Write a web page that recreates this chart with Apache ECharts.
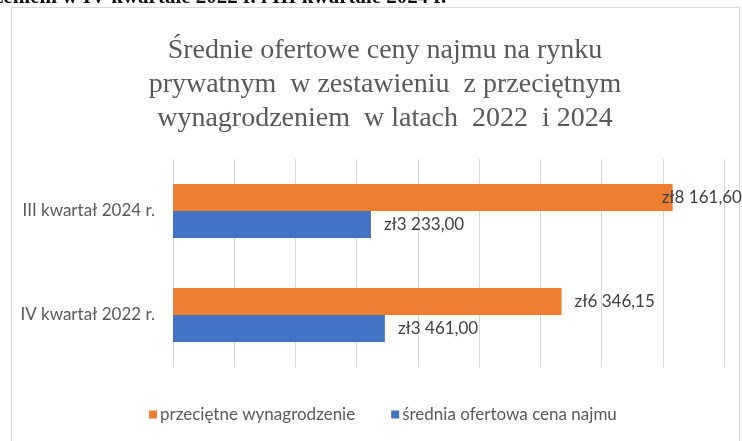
<!DOCTYPE html>
<html>
<head>
<meta charset="utf-8">
<script src="https://cdn.jsdelivr.net/npm/echarts@6/dist/echarts.min.js"></script>
<style>html,body{margin:0;padding:0;background:#fff;}#c{width:742px;height:441px;}</style>
</head>
<body>
<div id="c"></div>
<script>
const categories = ['IV kwartał 2022 r.', 'III kwartał 2024 r.'];
const wageName = 'przeciętne wynagrodzenie';
const rentName = 'średnia ofertowa cena najmu';
const wageValues = [6346.15, 8161.60];
const rentValues = [3461.00, 3233.00];
const titleText = 'Średnie ofertowe ceny najmu na rynku\nprywatnym  w zestawieniu  z przeciętnym\nwynagrodzeniem  w latach  2022  i 2024';
const headerText = 'zeniem w IV kwartale 2022 r. i III kwartale 2024 r.';

function fmt(v) {
  const parts = v.toFixed(2).split('.');
  const intPart = parts[0].replace(/\B(?=(\d{3})+(?!\d))/g, ' ');
  return 'zł' + intPart + ',' + parts[1];
}

const chart = echarts.init(document.getElementById('c'), null, {renderer: 'canvas'});
const labelFont = 'Lato, "Open Sans", sans-serif';
chart.setOption({
  backgroundColor: '#fff',
  animation: false,
  title: {
    text: titleText,
    left: 380,
    top: 29,
    textAlign: 'center',
    textStyle: {
      fontFamily: '"Liberation Serif", "DejaVu Serif", serif',
      fontSize: 28,
      fontWeight: 'normal',
      color: '#595959',
      lineHeight: 34
    }
  },
  graphic: [
    {type: 'rect', shape: {x: 11.5, y: 7.5, width: 728, height: 460}, style: {fill: 'none', stroke: '#d9d9d9', lineWidth: 1}, z: -1},
    {type: 'text', x: -6, y: 8, z: 10, style: {text: headerText, fontSize: 21, fontWeight: 'bold', fontFamily: '"Liberation Serif", serif', fill: '#111', textVerticalAlign: 'bottom'}}
  ],
  legend: {
    left: 144,
    top: 401,
    itemWidth: 8,
    itemHeight: 8,
    itemGap: 36,
    icon: 'rect',
    data: [wageName, rentName],
    textStyle: {fontFamily: labelFont, fontSize: 17, color: '#595959', padding: [0, 0, 0, -2]}
  },
  grid: {left: 173, right: 18, top: 159, bottom: 74, containLabel: false},
  xAxis: {
    type: 'value', min: 0, max: 9000, interval: 1000,
    axisLabel: {show: false},
    axisLine: {show: false},
    axisTick: {show: false},
    splitLine: {lineStyle: {color: '#d9d9d9', width: 1}}
  },
  yAxis: {
    type: 'category', data: categories,
    axisLine: {show: false},
    axisTick: {show: false},
    axisLabel: {fontFamily: labelFont, fontSize: 17, color: '#595959', margin: 18}
  },
  series: [
    {
      name: wageName, type: 'bar',
      data: wageValues.map((v, i) => i === 1 ? {value: v, label: {offset: [-24, 0]}} : v),
      barWidth: 27, barGap: '0%',
      itemStyle: {color: '#ED7D31'},
      label: {show: true, position: 'right', distance: 13, formatter: p => fmt(p.value),
        fontFamily: labelFont, fontSize: 17, color: '#404040'}
    },
    {
      name: rentName, type: 'bar', data: rentValues,
      barWidth: 27, barGap: '0%',
      itemStyle: {color: '#4472C4'},
      label: {show: true, position: 'right', distance: 13, formatter: p => fmt(p.value),
        fontFamily: labelFont, fontSize: 17, color: '#404040'}
    }
  ]
});
</script>
</body>
</html>
